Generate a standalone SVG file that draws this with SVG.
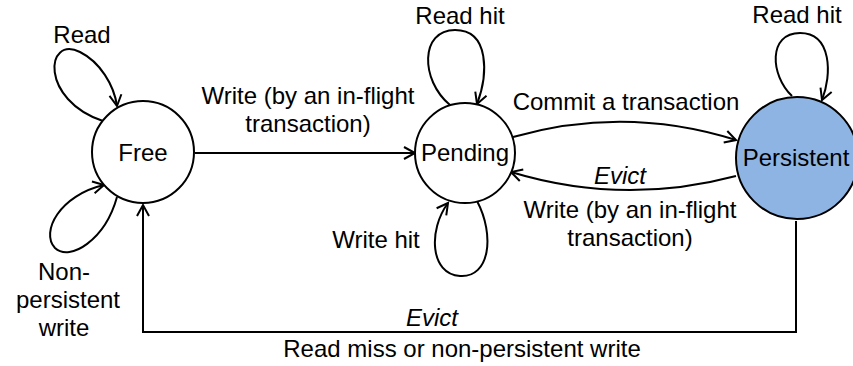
<svg xmlns="http://www.w3.org/2000/svg" width="853" height="366" viewBox="0 0 853 366">
<defs>
<style>
text{font-family:"Liberation Sans",Arial,sans-serif;font-size:24px;fill:#000;text-anchor:middle}
.it{font-style:italic}
.node{stroke:#000;stroke-width:2}
.edge{fill:none;stroke:#000;stroke-width:2}
</style>
<marker id="ah" markerUnits="userSpaceOnUse" markerWidth="16" markerHeight="16" refX="12" refY="7" orient="auto" viewBox="0 0 16 14">
<path d="M1,1 L12,7 L1,13" fill="none" stroke="#000" stroke-width="2"/>
</marker>
</defs>
<rect width="853" height="366" fill="#fff"/>
<g id="connectors">
<path class="edge" d="M195,153 L415,153" marker-end="url(#ah)"/>
<path class="edge" d="M513,137 Q625,105 736,140" marker-end="url(#ah)"/>
<path class="edge" d="M736,176 Q623,206 511,172" marker-end="url(#ah)"/>
<path class="edge" d="M796,221 L796,332 L143,332 L143,205" marker-end="url(#ah)"/>
<path class="edge" d="M103,121 C40,100 45,35 80,52 C100,62 114,85 117,106" marker-end="url(#ah)"/>
<path class="edge" d="M117,197 C105,240 70,262 55,248 C40,232 60,195 104,185" marker-end="url(#ah)"/>
<path class="edge" d="M450,105 C420,80 420,30 455,30 C490,30 488,75 477,104" marker-end="url(#ah)"/>
<path class="edge" d="M477,201 C495,235 490,278 460,276 C430,274 428,230 448,203" marker-end="url(#ah)"/>
<path class="edge" d="M792,96 C770,75 768,33 800,33 C832,33 832,75 822,100" marker-end="url(#ah)"/>
</g>
<g id="free">
<circle class="node" cx="143" cy="152" r="51" fill="#fff"/>
<text x="143" y="161">Free</text>
</g>
<g id="pending">
<circle class="node" cx="465" cy="153" r="50" fill="#fff"/>
<text x="465" y="161">Pending</text>
</g>
<g id="persistent">
<circle class="node" cx="797" cy="158" r="61" fill="#8EB4E3"/>
<text x="796" y="166">Persistent</text>
</g>
<g id="labels">
<text x="82" y="43">Read</text>
<text x="64" y="280">Non-</text>
<text x="68" y="308">persistent</text>
<text x="64" y="336">write</text>
<text x="308" y="104">Write (by an in-flight</text>
<text x="308" y="132">transaction)</text>
<text x="460" y="24">Read hit</text>
<text x="376" y="248">Write hit</text>
<text x="626" y="110">Commit a transaction</text>
<text class="it" x="620" y="184">Evict</text>
<text x="630" y="218">Write (by an in-flight</text>
<text x="630" y="246">transaction)</text>
<text x="797" y="23">Read hit</text>
<text class="it" x="432" y="326">Evict</text>
<text x="462" y="357">Read miss or non-persistent write</text>
</g>
</svg>
